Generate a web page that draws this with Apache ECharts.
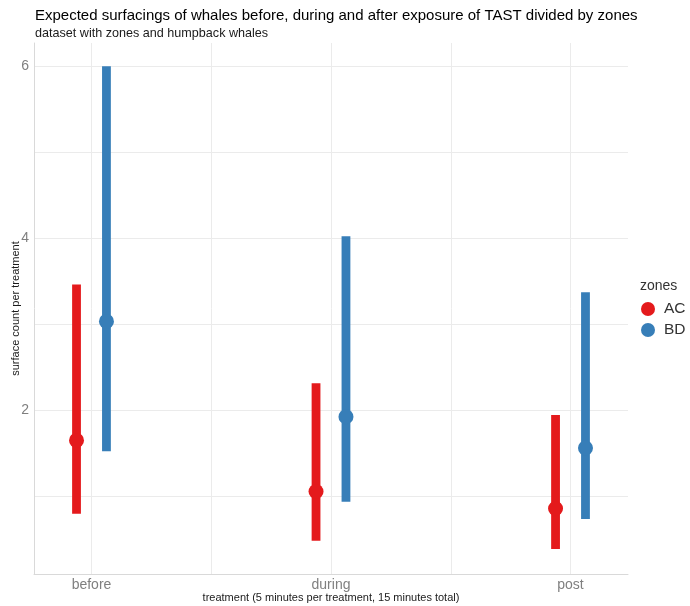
<!DOCTYPE html>
<html>
<head>
<meta charset="utf-8">
<script src="https://cdn.jsdelivr.net/npm/echarts@6/dist/echarts.min.js"></script>
<style>
  html, body { margin: 0; padding: 0; background: #fff; }
  #chart { width: 690px; height: 606px; }
</style>
</head>
<body>
<div id="chart"></div>
<script>
// treatment periods and zones
const treatments = ['before', 'during', 'post']
const zones = ['AC', 'BD']

// expected surfacings (mean) with lower / upper interval, per zone
const acMean = [1.645, 1.05, 0.853]
const acLow = [0.79, 0.477, 0.38]
const acHigh = [3.46, 2.31, 1.94]
const bdMean = [3.03, 1.92, 1.556]
const bdLow = [1.52, 0.93, 0.73]
const bdHigh = [6.0, 4.02, 3.37]

// axis ticks
const yLabels = [2, 4, 6]
const yGrid = [1, 2, 3, 4, 5, 6]
const xGrid = [1, 1.5, 2, 2.5, 3]

const colors = { AC: '#E41A1C', BD: '#377EB8' }
const dodge = 0.0625
const font = 'Liberation Sans, Arial, sans-serif'

const chart = echarts.init(document.getElementById('chart'), null, { renderer: 'canvas' })

function zoneSeries(name, low, high, mean, shift) {
    return {
        name: name,
        type: 'custom',
        z: 5,
        itemStyle: { color: colors[name] },
        encode: { x: 0, y: [1, 2, 3] },
        data: treatments.map((t, i) => [i + 1 + shift, low[i], high[i], mean[i]]),
        renderItem(params, api) {
            const x = api.value(0)
            const top = api.coord([x, api.value(2)])
            const bot = api.coord([x, api.value(1)])
            const mid = api.coord([x, api.value(3)])
            const color = colors[name]
            return {
                type: 'group',
                children: [
                    {
                        type: 'rect',
                        shape: { x: top[0] - 4.4, y: top[1], width: 8.8, height: bot[1] - top[1] },
                        style: { fill: color }
                    },
                    {
                        type: 'circle',
                        shape: { cx: mid[0], cy: mid[1], r: 7.5 },
                        style: { fill: color }
                    }
                ]
            }
        }
    }
}

const option = {
    backgroundColor: '#ffffff',
    animation: false,
    title: [
        {
            text: 'Expected surfacings of whales before, during and after exposure of TAST divided by zones',
            subtext: 'dataset with zones and humpback whales',
            left: 35,
            top: 8,
            padding: 0,
            itemGap: 4,
            textStyle: { fontFamily: font, fontSize: 15, fontWeight: 'normal', color: '#000' },
            subtextStyle: { fontFamily: font, fontSize: 12.6, color: '#1a1a1a' }
        },
        {
            text: 'zones',
            left: 640,
            top: 279,
            padding: 0,
            textStyle: { fontFamily: font, fontSize: 14, fontWeight: 'normal', color: '#333' }
        }
    ],
    legend: {
        data: zones,
        orient: 'vertical',
        left: 641,
        top: 301,
        padding: 0,
        icon: 'circle',
        itemWidth: 14,
        itemHeight: 14,
        itemGap: 5,
        textStyle: { fontFamily: font, fontSize: 15.5, color: '#333', padding: [0, 0, 0, 4] }
    },
    grid: { left: 34, right: 62, top: 43, bottom: 32, outerBoundsMode: 'none', containLabel: false },
    xAxis: {
        type: 'value',
        min: 0.76,
        max: 3.24,
        name: 'treatment (5 minutes per treatment, 15 minutes total)',
        nameLocation: 'middle',
        nameGap: 18,
        nameMoveOverlap: false,
        nameTextStyle: { fontFamily: font, fontSize: 11, color: '#1a1a1a' },
        axisLine: { show: true, lineStyle: { color: '#d9d9d9', width: 1 } },
        axisTick: { show: false },
        splitLine: { show: false },
        axisLabel: {
            customValues: [1, 2, 3],
            formatter: v => treatments[Math.round(v) - 1],
            fontFamily: font,
            fontSize: 14,
            color: '#7f7f7f',
            margin: 4
        }
    },
    yAxis: {
        type: 'value',
        min: 0.09,
        max: 6.27,
        name: 'surface count per treatment',
        nameLocation: 'middle',
        nameGap: 13,
        nameMoveOverlap: false,
        nameTextStyle: { fontFamily: font, fontSize: 11, color: '#1a1a1a' },
        axisLine: { show: true, lineStyle: { color: '#d9d9d9', width: 1 } },
        axisTick: { show: false },
        splitLine: { show: false },
        axisLabel: {
            customValues: yLabels,
            fontFamily: font,
            fontSize: 14,
            color: '#7f7f7f',
            margin: 5
        }
    },
    series: [
        {
            name: 'grid',
            type: 'line',
            data: [],
            z: 0,
            silent: true,
            markLine: {
                z: 0,
                silent: true,
                symbol: ['none', 'none'],
                label: { show: false },
                emphasis: { disabled: true },
                lineStyle: { color: '#ebebeb', width: 1, type: 'solid' },
                data: xGrid.map(v => ({ xAxis: v })).concat(yGrid.map(v => ({ yAxis: v })))
            }
        },
        zoneSeries('AC', acLow, acHigh, acMean, -dodge),
        zoneSeries('BD', bdLow, bdHigh, bdMean, dodge)
    ]
}

chart.setOption(option)
</script>
</body>
</html>
